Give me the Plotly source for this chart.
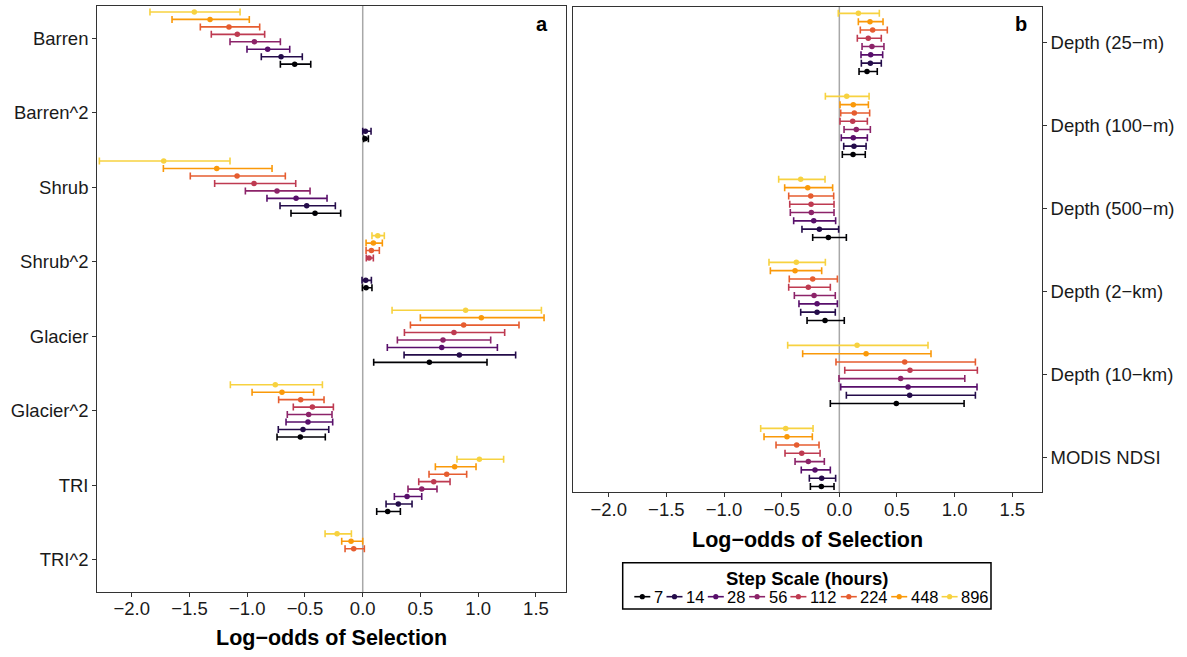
import plotly.graph_objects as go

W, H = 1187, 657
N = None

steps = [7, 14, 28, 56, 112, 224, 448, 896]
colors = ["#000004", "#240C4A", "#580F6B", "#8C2369", "#BE3A51", "#E65D30", "#FA9909", "#F7D240"]

# ---------------- panel a ----------------
cats_a = ["Barren", "Barren^2", "Shrub", "Shrub^2", "Glacier", "Glacier^2", "TRI", "TRI^2"]
# rows = step scale (7 ... 896), columns = cats_a
est_a = [
    [-0.589, 0.020, -0.413, 0.029, 0.577, -0.540, 0.216, N],
    [-0.707, 0.023, -0.485, 0.026, 0.837, -0.517, 0.308, N],
    [-0.823, N, -0.577, N, 0.684, -0.474, 0.384, N],
    [-0.938, N, -0.742, N, 0.695, -0.468, 0.511, N],
    [-1.086, N, -0.941, 0.055, 0.790, -0.436, 0.615, N],
    [-1.158, N, -1.088, 0.075, 0.874, -0.537, 0.727, -0.078],
    [-1.322, N, -1.264, 0.092, 1.027, -0.699, 0.796, -0.101],
    [-1.458, N, -1.723, 0.130, 0.891, -0.757, 1.010, -0.222],
]
lo_a = [
    [-0.713, 0.008, -0.621, -0.003, 0.095, -0.742, 0.121, N],
    [-0.878, 0.000, -0.716, -0.006, 0.358, -0.731, 0.202, N],
    [-1.002, N, -0.829, N, 0.213, -0.664, 0.274, N],
    [-1.149, N, -1.016, N, 0.300, -0.653, 0.392, N],
    [-1.311, N, -1.282, 0.031, 0.361, -0.601, 0.485, N],
    [-1.406, N, -1.493, 0.029, 0.413, -0.728, 0.574, -0.153],
    [-1.651, N, -1.726, 0.029, 0.499, -0.958, 0.629, -0.182],
    [-1.842, N, -2.280, 0.080, 0.254, -1.146, 0.816, -0.326],
]
hi_a = [
    [-0.450, 0.049, -0.191, 0.080, 1.076, -0.324, 0.326, N],
    [-0.523, 0.072, -0.237, 0.075, 1.324, -0.294, 0.427, N],
    [-0.632, N, -0.309, N, 1.166, -0.260, 0.511, N],
    [-0.713, N, -0.456, N, 1.108, -0.266, 0.643, N],
    [-0.849, N, -0.580, 0.092, 1.229, -0.254, 0.756, N],
    [-0.892, N, -0.670, 0.144, 1.353, -0.335, 0.900, 0.014],
    [-0.982, N, -0.785, 0.170, 1.570, -0.425, 0.981, 0.000],
    [-1.062, N, -1.149, 0.187, 1.547, -0.349, 1.220, -0.098],
]

# ---------------- panel b ----------------
cats_b = ["Depth (25\u2212m)", "Depth (100\u2212m)", "Depth (500\u2212m)",
          "Depth (2\u2212km)", "Depth (10\u2212km)", "MODIS NDSI"]
est_b = [
    [0.240, 0.119, -0.095, -0.124, 0.494, -0.156],
    [0.269, 0.127, -0.173, -0.193, 0.610, -0.153],
    [0.272, 0.121, -0.222, -0.193, 0.596, -0.211],
    [0.283, 0.147, -0.243, -0.219, 0.532, -0.269],
    [0.251, 0.116, -0.245, -0.269, 0.613, -0.326],
    [0.289, 0.130, -0.248, -0.231, 0.567, -0.370],
    [0.266, 0.121, -0.274, -0.384, 0.232, -0.454],
    [0.165, 0.064, -0.335, -0.373, 0.154, -0.465],
]
lo_b = [
    [0.171, 0.026, -0.231, -0.280, -0.078, -0.251],
    [0.191, 0.038, -0.324, -0.335, 0.061, -0.260],
    [0.188, 0.017, -0.396, -0.350, 0.012, -0.330],
    [0.197, 0.041, -0.425, -0.390, -0.003, -0.384],
    [0.156, 0.006, -0.430, -0.439, 0.047, -0.471],
    [0.182, 0.012, -0.439, -0.434, -0.029, -0.549],
    [0.165, 0.006, -0.474, -0.598, -0.318, -0.653],
    [-0.009, -0.121, -0.526, -0.610, -0.448, -0.682],
]
hi_b = [
    [0.329, 0.225, 0.061, 0.043, 1.082, -0.046],
    [0.364, 0.232, -0.006, -0.035, 1.180, -0.032],
    [0.376, 0.243, -0.032, -0.017, 1.194, -0.078],
    [0.387, 0.269, -0.046, -0.035, 1.088, -0.130],
    [0.364, 0.243, -0.046, -0.078, 1.197, -0.167],
    [0.416, 0.263, -0.049, -0.017, 1.180, -0.176],
    [0.379, 0.252, -0.058, -0.153, 0.795, -0.234],
    [0.347, 0.258, -0.124, -0.121, 0.769, -0.228],
]

x_ticks = [-2.0, -1.5, -1.0, -0.5, 0.0, 0.5, 1.0, 1.5]
x_ticktext = ["\u22122.0", "\u22121.5", "\u22121.0", "\u22120.5", "0.0", "0.5", "1.0", "1.5"]

FONT = "Liberation Sans, Arial, sans-serif"

fig = go.Figure()


def add_panel(est, lo, hi, xa, ya):
    for k in range(len(steps)):
        off = 0.35 - 0.1 * k
        xs, ys, ep, em = [], [], [], []
        for i, v in enumerate(est[k]):
            if v is None:
                continue
            xs.append(v)
            ys.append(i + off)
            ep.append(hi[k][i] - v)
            em.append(v - lo[k][i])
        fig.add_trace(go.Scatter(
            x=xs, y=ys, mode="markers", xaxis=xa, yaxis=ya,
            marker=dict(color=colors[k], size=5.5, line=dict(width=0)),
            error_x=dict(type="data", symmetric=False, array=ep, arrayminus=em,
                         color=colors[k], thickness=1.6, width=3.5),
            showlegend=False, hoverinfo="skip", name=str(steps[k])))


add_panel(est_a, lo_a, hi_a, "x", "y")
add_panel(est_b, lo_b, hi_b, "x2", "y2")


def px(x):
    return x / W


def py(y):
    return 1 - y / H


axis_common = dict(showgrid=False, zeroline=False, showline=True, mirror=True,
                   linecolor="#333333", linewidth=1.3, ticks="outside", ticklen=4,
                   tickwidth=1.1, tickcolor="#333333",
                   tickfont=dict(family=FONT, size=18.5, color="#1a1a1a"))

fig.update_layout(
    width=W, height=H, margin=dict(l=0, r=0, t=0, b=0),
    paper_bgcolor="white", plot_bgcolor="white", showlegend=False,
    font=dict(family=FONT, color="black"),
    xaxis=dict(domain=[px(97.3), px(566)], range=[-2.298, 1.760], anchor="y",
               tickvals=x_ticks, ticktext=x_ticktext, ticklabelstandoff=-4, **axis_common),
    yaxis=dict(domain=[py(592), py(6)], range=[7.43, -0.43], anchor="x",
               tickvals=list(range(len(cats_a))), ticktext=cats_a, **axis_common),
    xaxis2=dict(domain=[px(573.3), px(1041.7)], range=[-2.307, 1.755], anchor="y2",
                tickvals=x_ticks, ticktext=x_ticktext, ticklabelstandoff=-4, **axis_common),
    yaxis2=dict(domain=[py(492.3), py(6.7)], range=[5.42, -0.43], anchor="x2", side="right",
                tickvals=list(range(len(cats_b))), ticktext=cats_b, **axis_common),
)

shapes = []
for xr, yr in (("x", "y domain"), ("x2", "y2 domain")):
    shapes.append(dict(type="line", xref=xr, yref=yr, x0=0, x1=0, y0=0, y1=1,
                       line=dict(color="#A8A8A8", width=1.5), layer="below"))

annotations = [
    dict(text="<b>Log\u2212odds of Selection</b>", x=px(331.6), y=py(638), xref="paper", yref="paper",
         showarrow=False, xanchor="center", yanchor="middle", font=dict(size=21.5, family=FONT, color="black")),
    dict(text="<b>Log\u2212odds of Selection</b>", x=px(807.5), y=py(540), xref="paper", yref="paper",
         showarrow=False, xanchor="center", yanchor="middle", font=dict(size=21.5, family=FONT, color="black")),
    dict(text="<b>a</b>", x=px(542), y=py(24), xref="paper", yref="paper",
         showarrow=False, xanchor="center", yanchor="middle", font=dict(size=20, family=FONT, color="black")),
    dict(text="<b>b</b>", x=px(1021), y=py(24), xref="paper", yref="paper",
         showarrow=False, xanchor="center", yanchor="middle", font=dict(size=20, family=FONT, color="black")),
]

# ---- legend (drawn manually to match ggplot layout) ----
shapes.append(dict(type="rect", xref="paper", yref="paper", x0=px(622.7), x1=px(991),
                   y0=py(609), y1=py(562.7), line=dict(color="black", width=1.5), fillcolor="white",
                   layer="above"))
annotations.append(dict(text="<b>Step Scale (hours)</b>", x=px(807), y=py(578), xref="paper", yref="paper",
                        showarrow=False, xanchor="center", yanchor="middle",
                        font=dict(size=18.5, family=FONT, color="black")))
row_y = 596.7
cx = 634.3
for k, s in enumerate(steps):
    lab = str(s)
    shapes.append(dict(type="line", xref="paper", yref="paper", x0=px(cx), x1=px(cx + 16),
                       y0=py(row_y), y1=py(row_y), line=dict(color=colors[k], width=1.6), layer="above"))
    shapes.append(dict(type="circle", xref="paper", yref="paper", x0=px(cx + 8 - 2.6), x1=px(cx + 8 + 2.6),
                       y0=py(row_y + 2.6), y1=py(row_y - 2.6), line=dict(width=0), fillcolor=colors[k],
                       layer="above"))
    annotations.append(dict(text=lab, x=px(cx + 17.5), y=py(row_y), xref="paper", yref="paper",
                            showarrow=False, xanchor="left", yanchor="middle",
                            font=dict(size=16.5, family=FONT, color="black")))
    cx += 17.5 + 9.1 * len(lab) + 5.6

fig.update_layout(shapes=shapes, annotations=annotations)
fig.write_html("out.html", config={"displayModeBar": False},
               post_script="document.body.style.margin='0';document.body.style.overflow='hidden';")
